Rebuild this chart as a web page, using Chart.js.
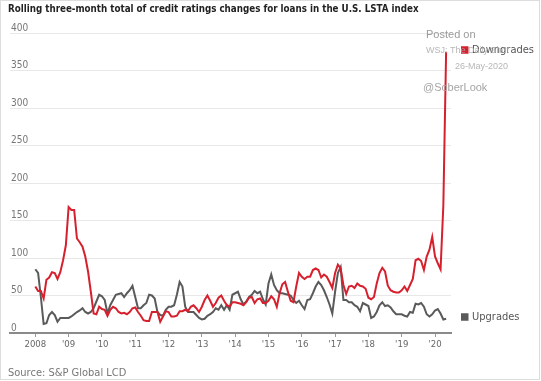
<!DOCTYPE html>
<html><head><meta charset="utf-8">
<script src="https://cdn.jsdelivr.net/npm/chart.js@4/dist/chart.umd.min.js"></script>
<style>html,body{margin:0;padding:0;background:#fff}#wrap{position:relative;width:541px;height:381px}</style>
</head><body><div id="wrap"><canvas id="c"></canvas></div>
<script>
const titleText = 'Rolling three-month total of credit ratings changes for loans in the U.S. LSTA index';
const sourceText = 'Source: S&P Global LCD';
const notes = ['Posted on', 'WSJ: The Daily Shot', '26-May-2020', '@SoberLook'];
const seriesNames = ['Downgrades', 'Upgrades'];
const startYear = 2008; // monthly values, Jan 2008 .. May 2020
const downgrades = [
  62,56,56,46,71,74,81,80,72,81,97,117,
  168,164,164,126,121,115,102,82,55,26,25,35,
  32,31,23,31,35,33,28,26,27,25,28,33,
  34,28,23,17,16,16,28,28,28,15,22,29,
  28,22,22,23,29,29,31,29,35,37,33,28,
  35,44,50,43,35,40,47,50,43,37,35,41,
  41,40,39,37,41,47,48,40,45,46,40,40,
  43,49,45,35,53,65,68,55,43,41,62,80,
  75,72,75,75,84,86,84,74,78,75,68,60,
  80,91,86,64,52,62,63,60,66,63,62,59,
  47,45,48,66,80,87,82,63,57,55,54,54,
  57,62,56,64,72,97,99,96,84,102,111,128,
  102,93,85,170,375
];
const upgrades = [
  85,80,48,12,13,24,28,24,15,20,20,20,
  20,22,25,28,30,33,28,26,28,33,42,51,
  49,44,26,37,44,51,52,53,48,53,57,63,
  48,33,33,37,40,51,50,46,28,24,23,31,
  35,35,37,51,68,62,35,28,28,28,24,20,
  18,19,23,25,28,33,31,37,31,37,31,51,
  53,55,45,38,42,48,51,56,53,55,45,38,
  66,78,64,57,53,53,52,51,50,44,40,43,
  37,32,44,45,53,62,68,64,57,48,38,26,
  55,80,88,44,44,41,41,37,35,29,40,38,
  36,20,22,28,37,41,36,37,34,29,25,25,
  25,23,22,28,27,39,38,40,35,25,22,25,
  30,32,26,18,19
];
const tickYears = [2008,2009,2010,2011,2012,2013,2014,2015,2016,2017,2018,2019,2020];
const tickLabels = ['2008',"'09","'10","'11","'12","'13","'14","'15","'16","'17","'18","'19","'20"];
const yTicks = [0,50,100,150,200,250,300,350,400];

const NARROW = "'Liberation Sans Narrow', 'DejaVu Sans Condensed', 'Roboto', sans-serif";
const SANS = "'Liberation Sans', Arial, sans-serif";
const toPoints = arr => arr.map((v, i) => ({ x: startYear + i / 12, y: v }));

// pick a title size whose natural width is about 411px (as in the reference)
const mctx = document.createElement('canvas').getContext('2d');
mctx.font = 'bold 12px ' + NARROW;
const titleSize = Math.min(12, 12 * 411 / mctx.measureText(titleText).width);
const titleTop = 3.5;
const titleBottom = 33 - titleTop - titleSize * 1.2; // plot top at y = 33

const overlay = {
  id: 'overlay',
  afterDraw(chart) {
    const ctx = chart.ctx, area = chart.chartArea, ys = chart.scales.y;
    ctx.save();
    ctx.textBaseline = 'middle'; ctx.textAlign = 'left';
    chart.data.datasets.forEach(ds => {
      const last = ds.data[ds.data.length - 1].y;
      const yy = ys.getPixelForValue(last) - 2;
      ctx.fillStyle = ds.borderColor;
      ctx.fillRect(area.right + 10, yy - 3.5, 7.5, 7.5);
      ctx.fillStyle = '#555';
      ctx.font = '11px ' + NARROW;
      ctx.fillText(ds.label, area.right + 21, yy + 0.5);
    });
    ctx.fillStyle = '#9a9a9a'; ctx.font = '11px ' + SANS;
    ctx.fillText(notes[0], 426, 35);
    ctx.fillStyle = 'rgba(170,170,170,0.85)'; ctx.font = '9px ' + SANS;
    ctx.fillText(notes[1], 426, 51);
    ctx.fillText(notes[2], 455, 67);
    ctx.fillStyle = '#a5a5a5'; ctx.font = '11px ' + SANS;
    ctx.fillText(notes[3], 423, 88);
    ctx.strokeStyle = '#dddddd'; ctx.lineWidth = 1;
    ctx.strokeRect(0.5, 0.5, chart.width - 2, chart.height - 2);
    ctx.restore();
  }
};

new Chart(document.getElementById('c'), {
  type: 'line',
  data: {
    datasets: [
      { label: seriesNames[0], data: toPoints(downgrades), borderColor: '#d7202d', borderWidth: 2, pointRadius: 0, tension: 0, fill: false },
      { label: seriesNames[1], data: toPoints(upgrades), borderColor: '#5a5a5a', borderWidth: 2, pointRadius: 0, tension: 0, fill: false }
    ]
  },
  options: {
    responsive: true, maintainAspectRatio: false, animation: false, devicePixelRatio: 1,
    layout: { padding: { left: 8, right: 90, top: 0, bottom: 0 } },
    plugins: {
      legend: { display: false }, tooltip: { enabled: false },
      title: { display: true, text: titleText, align: 'start', color: '#222',
        font: { size: titleSize, weight: 'bold', family: NARROW, lineHeight: 1.2 }, padding: { top: titleTop, bottom: titleBottom } },
      subtitle: { display: true, text: sourceText, position: 'bottom', align: 'start', color: '#777',
        font: { size: 11, family: NARROW, lineHeight: 1.2 }, padding: { top: 9.8, bottom: 1 } }
    },
    scales: {
      x: {
        type: 'linear', min: 2007.24, max: 2020.48,
        afterBuildTicks: s => { s.ticks = tickYears.map(v => ({ value: v })); },
        afterFit: s => { s.height = 24; },
        ticks: { callback: (v) => tickLabels[tickYears.indexOf(v)], color: '#666', font: { size: 9.5, family: NARROW }, padding: 1.5, maxRotation: 0, autoSkip: false },
        grid: { drawOnChartArea: false, drawTicks: true, tickLength: 4, color: '#999' },
        border: { display: true, color: '#8a8a8a', width: 2 }
      },
      y: {
        min: 0, max: 400,
        afterBuildTicks: s => { s.ticks = yTicks.map(v => ({ value: v })); },
        ticks: { mirror: true, padding: 1, labelOffset: -5, color: '#777', font: { size: 10, family: NARROW } },
        grid: { drawTicks: false, color: '#e8e8e8', lineWidth: 1 },
        border: { display: false }
      }
    }
  },
  plugins: [overlay]
});
</script></body></html>
